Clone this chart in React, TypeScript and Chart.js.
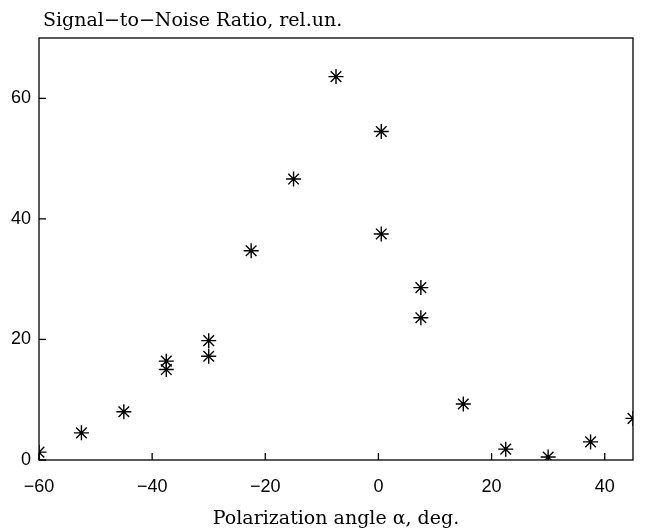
import React, { useEffect, useRef } from "react";
import { Chart, registerables } from "chart.js";

Chart.register(...registerables);

const angleDeg = [-60, -52.5, -45, -37.5, -37.5, -30, -30, -22.5, -15, -7.5, 0.5, 0.5, 7.5, 7.5, 15, 22.5, 30, 37.5, 45];
const snrValues = [1.3, 4.5, 8.0, 16.4, 15.0, 19.8, 17.2, 34.7, 46.6, 63.6, 54.5, 37.5, 28.6, 23.6, 9.3, 1.8, 0.5, 3.0, 6.9];
const xTickValues = [-60, -40, -20, 0, 20, 40];
const yTickValues = [0, 20, 40, 60];
const yTitle = "Signal\u2212to\u2212Noise Ratio, rel.un.";
const xTitle = "Polarization angle \u03b1, deg.";

const SERIF = "'DejaVu Serif', 'Liberation Serif', serif";
const SANS = "'Liberation Sans', Arial, sans-serif";

const framePlugin = {
  id: "frame",
  afterDraw(chart: any) {
    const { ctx, chartArea } = chart;
    const xs = chart.scales.x;
    const ys = chart.scales.y;
    ctx.save();
    ctx.strokeStyle = "#000";
    ctx.lineWidth = 1.3;
    ctx.strokeRect(chartArea.left, chartArea.top, chartArea.right - chartArea.left, chartArea.bottom - chartArea.top);
    ctx.beginPath();
    for (const v of xTickValues) {
      const px = xs.getPixelForValue(v);
      ctx.moveTo(px, chartArea.bottom);
      ctx.lineTo(px, chartArea.bottom - 7);
    }
    for (const v of yTickValues) {
      const py = ys.getPixelForValue(v);
      ctx.moveTo(chartArea.left, py);
      ctx.lineTo(chartArea.left + 7, py);
    }
    ctx.stroke();
    ctx.fillStyle = "#000";
    ctx.font = `19px ${SERIF}`;
    ctx.textBaseline = "alphabetic";
    ctx.textAlign = "left";
    ctx.fillText(yTitle, 43, 26);
    ctx.restore();
  },
};

export default function App() {
  const ref = useRef<HTMLCanvasElement | null>(null);
  useEffect(() => {
    if (!ref.current) return;
    const chart = new Chart(ref.current, {
      type: "scatter",
      data: {
        datasets: [
          {
            data: angleDeg.map((x, i) => ({ x, y: snrValues[i] })),
            pointStyle: "star",
            pointRadius: 7.5,
            borderColor: "#000",
            backgroundColor: "#000",
            borderWidth: 1.4,
          },
        ],
      },
      options: {
        animation: false,
        responsive: false,
        devicePixelRatio: 1,
        layout: { padding: { left: 0, top: 38, right: 13, bottom: 0 } },
        plugins: { legend: { display: false }, tooltip: { enabled: false }, title: { display: false } },
        scales: {
          x: {
            type: "linear",
            min: -60,
            max: 45,
            afterBuildTicks(scale: any) {
              scale.ticks = xTickValues.map((v) => ({ value: v }));
            },
            afterFit(scale: any) {
              scale.height = 70;
            },
            grid: { display: false, drawTicks: false },
            border: { display: false },
            ticks: {
              padding: 16,
              maxRotation: 0,
              color: "#000",
              font: { family: SANS, size: 18 },
              callback: (v: any) => (Number(v) < 0 ? "\u2212" + Math.abs(Number(v)) : String(v)),
            },
            title: {
              display: true,
              text: xTitle,
              color: "#000",
              font: { family: SERIF, size: 19 },
              padding: { top: 0, bottom: 0 },
            },
          },
          y: {
            type: "linear",
            min: 0,
            max: 70,
            afterBuildTicks(scale: any) {
              scale.ticks = yTickValues.map((v) => ({ value: v }));
            },
            afterFit(scale: any) {
              scale.width = 39;
            },
            grid: { display: false, drawTicks: false },
            border: { display: false },
            ticks: {
              padding: 8,
              color: "#000",
              font: { family: SANS, size: 18 },
            },
          },
        },
      },
      plugins: [framePlugin],
    });
    return () => chart.destroy();
  }, []);
  return (
    <div style={{ position: "fixed", left: 0, top: 0, width: 646, height: 530, background: "#fff" }}>
      <canvas ref={ref} width={646} height={530} style={{ width: 646, height: 530 }} />
    </div>
  );
}
